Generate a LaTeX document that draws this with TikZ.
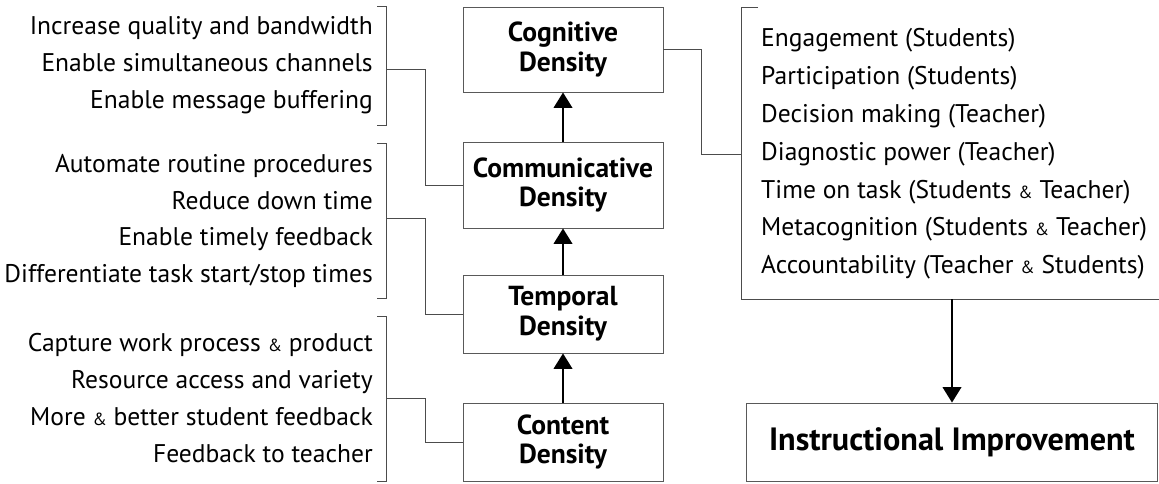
\documentclass[tikz,border=0pt]{standalone}
\usepackage{fontspec}
\setmainfont{PT Sans}
\usetikzlibrary{arrows.meta,positioning,calc}
\newcommand{\amp}{{\fontsize{15}{15}\selectfont\&}}

\begin{document}
\begin{tikzpicture}[x=0.3mm, y=-0.3mm,
  dens/.style={draw=black!65, line width=0.8pt, minimum width=60mm, inner sep=0pt, align=center, font=\fontsize{23.5}{25.5}\selectfont\bfseries},
  items/.style={inner sep=0pt, anchor=east, align=right, font=\fontsize{21.8}{31.5}\selectfont},
  brk/.style={draw=black!70, line width=0.8pt},
  link/.style={draw=black!70, line width=0.8pt},
  up/.style={-{Triangle[width=5.6mm,length=4.6mm]}, line width=1.2pt}
]
\useasboundingbox (0,0) rectangle (1159,483);

% density boxes
\node[dens, minimum height=25.5mm] (cog) at (563,49.5) {Cognitive\\Density};
\node[dens, minimum height=25.8mm] (com) at (563,185) {Communicative\\Density};
\node[dens, minimum height=23.4mm] (tem) at (563,314) {Temporal\\Density};
\node[dens, minimum height=23.4mm] (con) at (563,442) {Content\\Density};

\foreach \a/\b in {con/tem,tem/com,com/cog} {
  \draw[up] (\a) -- (\b);
}

% left lists
\node[items] (g1) at (373,65.5) {Increase quality and bandwidth\\Enable simultaneous channels\\Enable message buffering};
\node[items] (g2) at (373,221) {Automate routine procedures\\Reduce down time\\Enable timely feedback\\Differentiate task start/stop times};
\node[items] (g3) at (373,398) {Capture work process \amp{} product\\Resource access and variety\\More \amp{} better student feedback\\Feedback to teacher};

\draw[brk] (377,6) -- (386,6) -- (386,125) -- (377,125);
\draw[brk] (377,143) -- (386,143) -- (386,298) -- (377,298);
\draw[brk] (377,316) -- (386,316) -- (386,481) -- (377,481);

\coordinate (j1) at (386,69);
\coordinate (j2) at (386,218);
\coordinate (j3) at (386,398);
\draw[link] (j1) -- ++(39,0) |- (com.west);
\draw[link] (j2) -- ++(39,0) |- (tem.west);
\draw[link] (j3) -- ++(39,0) |- (con.west);

% right list
\node[items, anchor=west, align=left, font=\fontsize{21.8}{32.3}\selectfont] (res) at (761,154) {Engagement (Students)\\Participation (Students)\\Decision making (Teacher)\\Diagnostic power (Teacher)\\Time on task (Students \amp{} Teacher)\\Metacognition (Students \amp{} Teacher)\\Accountability (Teacher \amp{} Students)};
\draw[brk] (758,7) -- (741,7) -- (741,299) -- (1159,299);
\coordinate (j4) at (741,154);
\draw[link] (cog.east) -- ++(38,0) |- (j4);

\node[dens, minimum width=123.4mm, minimum height=23.4mm, font=\fontsize{27.5}{30}\selectfont\bfseries] (imp) at (952,442) {Instructional Improvement};
\coordinate (j5) at (952,299);
\draw[up] (j5) -- (imp.north);

\end{tikzpicture}
\end{document}
